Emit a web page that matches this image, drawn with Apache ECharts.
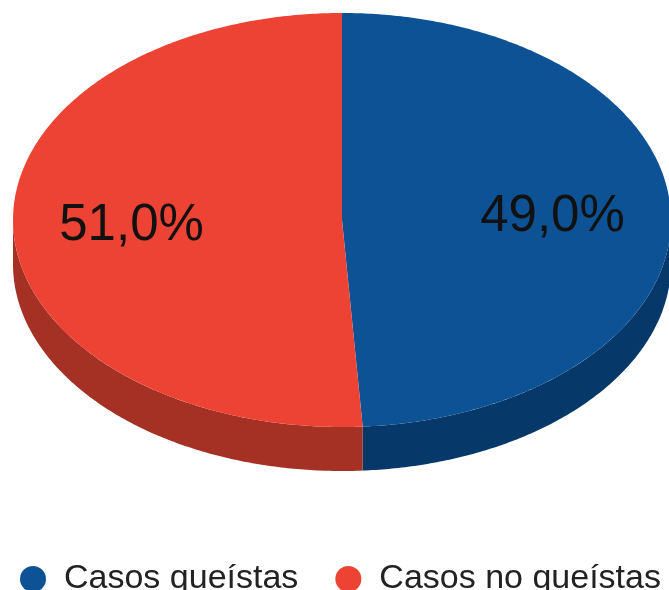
<!DOCTYPE html>
<html><head><meta charset="utf-8">
<style>html,body{margin:0;padding:0;background:#fff}#c{width:669px;height:590px}</style>
<script src="https://cdn.jsdelivr.net/npm/echarts@6/dist/echarts.min.js"></script>
</head><body><div id="c"></div>
<script>
const categories = ['Casos queístas', 'Casos no queístas'];
const values = [49.0, 51.0];
const labels = ['49,0%', '51,0%'];
const topColors = ['#0D5295', '#EC4335'];
const sideColors = ['#07386A', '#A53024'];
const total = values.reduce((a, b) => a + b, 0);
const cx = 342, cy = 220, rx = 329, ry = 207, depth = 44;
function arc(a0, a1, yOff) {
  const pts = [];
  const n = Math.max(2, Math.ceil((a1 - a0) / 0.01));
  for (let i = 0; i <= n; i++) {
    const a = a0 + (a1 - a0) * i / n;
    pts.push([cx + rx * Math.sin(a), cy - ry * Math.cos(a) + yOff]);
  }
  return pts;
}
function renderSlice(idx) {
  return function (params, api) {
    const v = api.value(0);
    let start = 0;
    for (let i = 0; i < idx; i++) start += values[i];
    const a0 = start / total * Math.PI * 2, a1 = (start + v) / total * Math.PI * 2;
    const children = [];
    const s0 = Math.max(a0, Math.PI / 2), s1 = Math.min(a1, Math.PI * 1.5);
    if (s1 > s0) {
      children.push({ type: 'polygon', shape: { points: arc(s0, s1, 0).concat(arc(s0, s1, depth).reverse()) },
        style: { fill: sideColors[idx] } });
    }
    children.push({ type: 'polygon', shape: { points: [[cx, cy]].concat(arc(a0, a1, 0)) },
      style: { fill: api.visual('color') } });
    const mid = (a0 + a1) / 2;
    children.push({ type: 'text', style: {
      text: labels[idx], x: cx + rx * 0.64 * Math.sin(mid), y: cy + (idx === 0 ? -3 : 6),
      align: 'center', verticalAlign: 'middle', fill: '#111',
      font: '51px "Liberation Sans", Arial, sans-serif' } });
    return { type: 'group', children };
  };
}
const chart = echarts.init(document.getElementById('c'), null, { renderer: 'canvas' });
chart.setOption({
  animation: false,
  backgroundColor: '#fff',
  legend: {
    left: 15, top: 557, itemWidth: 52, itemHeight: 26, itemGap: 37, icon: 'circle',
    data: categories,
    textStyle: { fontFamily: '"Liberation Sans", Arial, sans-serif', fontSize: 34, color: '#222' }
  },
  series: categories.map((name, i) => ({
    type: 'custom', name, coordinateSystem: 'none',
    renderItem: renderSlice(i),
    itemStyle: { color: topColors[i] },
    encode: { value: 0 },
    data: [[values[i]]]
  }))
});
</script></body></html>
